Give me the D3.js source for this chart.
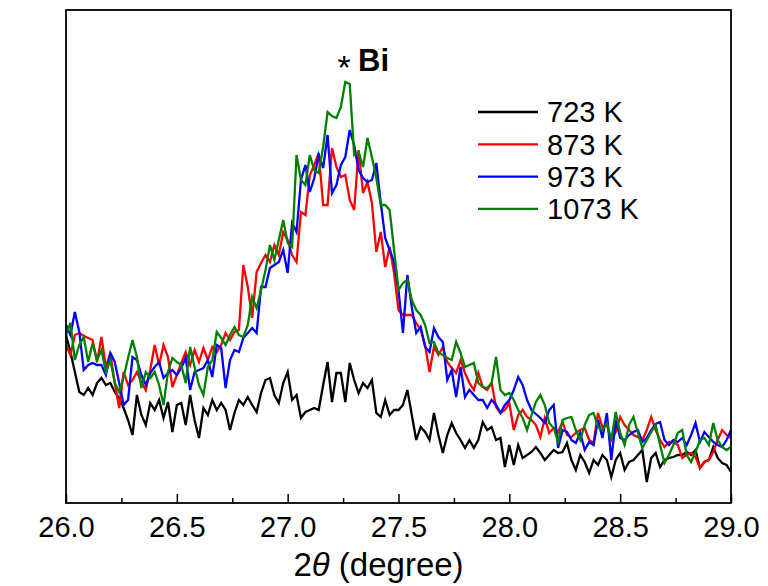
<!DOCTYPE html>
<html>
<head>
<meta charset="utf-8">
<script src="https://cdn.jsdelivr.net/npm/d3@7"></script>
<style>
  html, body { margin: 0; padding: 0; background: #fff; }
  svg { display: block; font-family: Arial, "Liberation Sans", sans-serif; }
</style>
</head>
<body>
<svg id="chart" width="768" height="586"></svg>
<script>
// XRD scans, 2θ from 26.00° to 29.00° in 0.02° steps (151 points each), intensity in arbitrary units
const twoThetaStart = 26.0;
const twoThetaStep = 0.02;

const series723 = [168,151,131,111,108,115,108,120,125,118,120,111,105,95,83,68,108,88,78,100,
  93,103,85,101,71,98,100,78,108,83,65,95,88,103,93,100,93,73,90,103,
  98,106,98,91,110,123,125,108,100,120,131,103,108,85,91,93,95,93,118,141,
  101,130,130,101,140,123,110,120,115,123,90,86,103,88,93,93,98,113,88,63,
  76,71,63,90,68,50,68,80,70,63,55,63,55,63,81,73,76,63,65,36,
  58,38,58,45,48,51,56,50,43,48,53,50,51,60,43,33,48,41,30,43,
  38,48,43,26,43,50,33,41,43,48,53,21,45,50,36,43,45,46,48,48,
  51,48,53,35,41,43,56,45,40,38,31];

const series873 = [158,148,168,170,167,165,163,141,166,136,150,120,95,131,118,123,131,121,113,133,
  158,138,158,146,116,128,140,151,138,153,141,155,143,156,151,158,170,163,171,173,
  238,216,185,231,240,248,241,258,248,271,263,248,241,291,288,328,338,350,298,298,
  355,336,326,328,303,293,353,310,321,300,251,271,236,256,230,193,188,188,188,180,
  173,158,131,156,148,156,141,135,130,143,130,120,113,130,116,113,120,96,90,93,
  100,73,88,93,86,83,78,66,85,70,75,71,81,68,66,70,73,75,63,60,
  90,76,78,63,71,86,78,73,68,66,63,73,86,73,63,56,61,61,58,45,
  48,50,46,35,41,43,51,63,73,68,65];

const series973 = [178,168,191,171,133,138,140,138,138,128,150,141,120,98,103,146,143,128,118,130,
  136,141,125,130,133,128,135,145,113,131,133,135,143,126,158,155,115,143,153,151,
  165,170,175,170,216,216,235,238,241,253,230,280,271,323,338,311,325,348,335,368,
  310,318,338,346,373,358,333,325,321,323,340,300,265,253,241,213,170,228,196,170,
  176,156,151,175,166,161,123,133,106,136,106,113,108,103,103,95,103,98,90,98,
  103,113,126,118,103,93,89,85,80,93,98,55,73,71,63,60,70,53,61,58,
  83,65,90,43,83,65,63,68,71,73,61,65,73,79,81,63,58,63,61,65,
  58,68,80,61,71,66,61,58,56,63,73];

const series1073 = [168,180,143,158,166,141,160,143,153,131,143,120,111,126,145,163,146,115,131,125,
  131,118,98,131,145,141,138,120,156,136,118,108,136,143,171,165,158,168,176,168,
  166,178,206,195,213,233,258,243,263,283,260,256,348,323,318,348,333,330,356,391,
  387,385,396,421,419,348,351,336,365,346,325,298,298,293,253,213,220,223,203,193,
  188,178,160,161,150,148,145,143,161,150,136,138,140,120,116,115,120,146,113,108,
  110,103,93,85,73,88,101,108,98,80,75,61,83,85,86,73,63,78,88,90,
  76,73,80,63,91,70,58,78,86,70,55,63,71,78,58,40,48,58,70,73,
  48,41,51,63,65,58,80,63,56,53,56];

const seriesNames = ["723 K", "873 K", "973 K", "1073 K"];
const seriesColors = ["#000000", "#ff0000", "#0000ff", "#008000"];
const xTickValues = [26.0, 26.5, 27.0, 27.5, 28.0, 28.5, 29.0];
const xMinorTicks = [26.25, 26.75, 27.25, 27.75, 28.25, 28.75];

const allSeries = [series723, series873, series973, series1073];

const svg = d3.select("#chart");
const margin = { left: 66, right: 37, top: 10, bottom: 83 };
const W = 768, H = 586;
const plotW = W - margin.left - margin.right;
const plotH = H - margin.top - margin.bottom;

const x = d3.scaleLinear().domain([26.0, 29.0]).range([margin.left, margin.left + plotW]);
const y = d3.scaleLinear().domain([0, 493]).range([margin.top + plotH, margin.top]);

const line = d3.line()
  .x((d, i) => x(twoThetaStart + i * twoThetaStep))
  .y(d => y(d));

const plot = svg.append("g");
allSeries.forEach((vals, k) => {
  plot.append("path")
    .datum(vals)
    .attr("fill", "none")
    .attr("stroke", seriesColors[k])
    .attr("stroke-width", 2.3)
    .attr("stroke-linejoin", "miter")
    .attr("d", line);
});

// frame
svg.append("rect")
  .attr("x", margin.left).attr("y", margin.top)
  .attr("width", plotW).attr("height", plotH)
  .attr("fill", "none").attr("stroke", "#000").attr("stroke-width", 1.8);

// bottom axis with inward ticks
const xAxis = d3.axisBottom(x)
  .tickValues(xTickValues)
  .tickFormat(d3.format(".1f"))
  .tickSizeInner(-9)
  .tickSizeOuter(0)
  .tickPadding(13);
const gx = svg.append("g")
  .attr("transform", `translate(0,${margin.top + plotH})`)
  .call(xAxis);
gx.select(".domain").remove();
gx.selectAll(".tick line").attr("stroke", "#000").attr("stroke-width", 1.5);
gx.selectAll(".tick text")
  .attr("fill", "#000")
  .style("font-size", "29px")
  .style("font-family", "Arial, 'Liberation Sans', sans-serif");

const gMinor = svg.append("g")
  .attr("transform", `translate(0,${margin.top + plotH})`)
  .call(d3.axisBottom(x).tickValues(xMinorTicks).tickSize(-5).tickFormat(""));
gMinor.select(".domain").remove();
gMinor.selectAll(".tick line").attr("stroke", "#000").attr("stroke-width", 1.5);

// axis title
const title = svg.append("text")
  .attr("x", x(27.5) - 20)
  .attr("y", 576)
  .attr("text-anchor", "middle")
  .style("font-size", "33px")
  .attr("fill", "#000");
title.append("tspan").text("2");
title.append("tspan").attr("font-style", "italic").text("θ");
title.append("tspan").text(" (degree)");

// peak annotation
svg.append("text")
  .attr("x", 344)
  .attr("y", 79)
  .attr("text-anchor", "middle")
  .style("font-size", "34px")
  .attr("fill", "#000")
  .text("*");
svg.append("text")
  .attr("x", 358)
  .attr("y", 71)
  .style("font-size", "31px")
  .attr("font-weight", "bold")
  .attr("fill", "#000")
  .text("Bi");

// legend
const legend = svg.append("g").attr("transform", "translate(478,112)");
seriesNames.forEach((name, k) => {
  const g = legend.append("g").attr("transform", `translate(0,${k * 32.3})`);
  g.append("line").attr("x1", 0).attr("x2", 60).attr("y1", 0).attr("y2", 0)
    .attr("stroke", seriesColors[k]).attr("stroke-width", 2.3);
  g.append("text").attr("x", 69).attr("y", 0).attr("dy", "0.36em")
    .style("font-size", "29px").attr("fill", "#000").text(name);
});
</script>
</body>
</html>
